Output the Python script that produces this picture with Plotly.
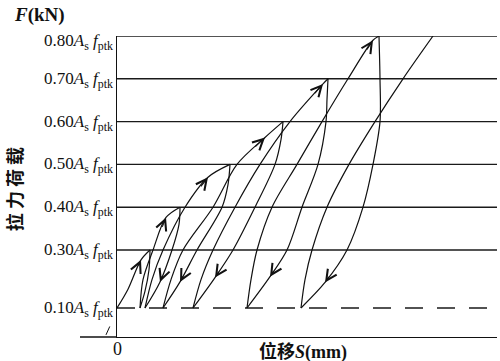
import numpy as np
import plotly.graph_objects as go

# ---------------- data (load as fraction of A_s f_ptk, displacement schematic) ----------
level_loads = [0.10, 0.30, 0.40, 0.50, 0.60, 0.70, 0.80]
level_labels = ["0.10", "0.30", "0.40", "0.50", "0.60", "0.70", "0.80"]

# loading branches (displacement, load)
load0_x = [0.0, 1.1, 2.4, 3.3]
load0_y = [0.10, 0.165, 0.266, 0.30]
load1_x = [2.3, 2.6, 3.6, 4.9, 6.3]
load1_y = [0.10, 0.198, 0.30, 0.376, 0.40]
load2_x = [2.8, 3.5, 4.6, 6.8, 9.1, 11.3]
load2_y = [0.10, 0.198, 0.30, 0.40, 0.47, 0.50]
load3_x = [4.6, 5.4, 6.6, 9.6, 12.0, 14.8, 16.6]
load3_y = [0.10, 0.198, 0.30, 0.40, 0.50, 0.563, 0.60]
load4_x = [7.6, 8.4, 9.6, 11.8, 14.3, 17.3, 20.6, 21.1]
load4_y = [0.10, 0.198, 0.30, 0.40, 0.50, 0.60, 0.688, 0.70]
load5_x = [13.0, 13.4, 14.0, 15.5, 18.0, 20.5, 23.1, 25.6, 26.2]
load5_y = [0.10, 0.198, 0.30, 0.40, 0.50, 0.60, 0.70, 0.79, 0.80]
load6_x = [18.4, 18.8, 19.5, 21.0, 23.2, 25.8, 28.6, 31.6]
load6_y = [0.10, 0.198, 0.30, 0.40, 0.50, 0.60, 0.70, 0.80]

# unloading branches
unload1_x = [3.3, 3.2, 2.8, 2.3]
unload1_y = [0.30, 0.232, 0.158, 0.10]
unload2_x = [6.3, 6.2, 5.5, 4.3, 2.8]
unload2_y = [0.40, 0.36, 0.30, 0.19, 0.10]
unload3_x = [11.3, 11.1, 10.5, 8.0, 6.3, 4.6]
unload3_y = [0.50, 0.453, 0.40, 0.30, 0.19, 0.10]
unload4_x = [16.6, 16.4, 15.8, 13.8, 11.6, 9.8, 7.6]
unload4_y = [0.60, 0.558, 0.50, 0.40, 0.30, 0.205, 0.10]
unload5_x = [21.1, 21.0, 20.9, 20.1, 18.5, 17.0, 15.3, 13.0]
unload5_y = [0.70, 0.652, 0.60, 0.50, 0.40, 0.30, 0.208, 0.10]
unload6_x = [26.2, 26.3, 26.3, 25.6, 24.6, 23.0, 20.8, 18.4]
unload6_y = [0.80, 0.70, 0.60, 0.50, 0.40, 0.30, 0.188, 0.10]

loading = [(load0_x, load0_y), (load1_x, load1_y), (load2_x, load2_y), (load3_x, load3_y),
           (load4_x, load4_y), (load5_x, load5_y), (load6_x, load6_y)]
unloading = [(unload1_x, unload1_y), (unload2_x, unload2_y), (unload3_x, unload3_y),
             (unload4_x, unload4_y), (unload5_x, unload5_y), (unload6_x, unload6_y)]

# arrow positions: (branch, load at arrow head, direction)
arrows = [(loading[0], 0.266, "up"), (loading[1], 0.376, "up"), (loading[2], 0.47, "up"),
          (loading[3], 0.563, "up"), (loading[4], 0.688, "up"), (loading[5], 0.79, "up"),
          (unloading[1], 0.19, "down"), (unloading[2], 0.19, "down"), (unloading[3], 0.205, "down"),
          (unloading[4], 0.208, "down"), (unloading[5], 0.188, "down")]

# ---------------- broken vertical axis (lower part compressed) ----------------
BREAK = 0.30
UPPER_STRETCH = 1.476


def axis_pos(load):
    load = np.asarray(load, dtype=float)
    return np.where(load <= BREAK, load, BREAK + (load - BREAK) * UPPER_STRETCH)


def x_on(branch, load):
    xs, ys = np.asarray(branch[0], float), np.asarray(branch[1], float)
    if ys[0] > ys[-1]:
        xs, ys = xs[::-1], ys[::-1]
    return float(np.interp(load, ys, xs))


SERIF = "Liberation Serif, Noto Sans CJK SC, serif"
INK = "#111111"

fig = go.Figure()

for bx, by in loading + unloading:
    fig.add_trace(go.Scatter(x=bx, y=axis_pos(by), mode="lines",
                             line=dict(color=INK, width=1.2, shape="spline", smoothing=0.9),
                             hoverinfo="skip", showlegend=False))

# level lines
for ld in level_loads:
    fig.add_shape(type="line", xref="paper", x0=0, x1=1, yref="y",
                  y0=float(axis_pos(ld)), y1=float(axis_pos(ld)),
                  line=dict(color="#1a1a1a", width=1.4,
                            dash="18px,14px" if ld == 0.10 else "solid"),
                  layer="below")

# arrows
for branch, ld, direction in arrows:
    tail = ld - 0.025 if direction == "up" else ld + 0.025
    fig.add_annotation(x=x_on(branch, ld), y=float(axis_pos(ld)),
                       ax=x_on(branch, tail), ay=float(axis_pos(tail)),
                       xref="x", yref="y", axref="x", ayref="y", text="",
                       showarrow=True, arrowhead=5, arrowsize=1.9, arrowwidth=1.1,
                       arrowcolor=INK, standoff=0, startstandoff=0)

# level labels
for ld, lab in zip(level_loads, level_labels):
    fig.add_annotation(x=0, xref="x", xshift=-2, xanchor="right",
                       y=float(axis_pos(ld)), yref="y", yanchor="middle",
                       yshift=-6 if ld == 0.80 else -1,
                       text=f"{lab}<i>A</i><sub>s</sub> <i>f</i><sub>ptk</sub>",
                       showarrow=False, font=dict(family=SERIF, size=17, color=INK))

# axis texts
fig.add_annotation(x=-0.276, xref="paper", xanchor="left", y=1.07, yref="paper", yanchor="middle",
                   text="<b><i>F</i>(kN)</b>", showarrow=False,
                   font=dict(family=SERIF, size=19, color=INK))
fig.add_annotation(x=-0.272, xref="paper", xanchor="center", y=0.49, yref="paper",
                   yanchor="middle", textangle=-90, text="<b>拉 力 荷 载</b>", showarrow=False,
                   font=dict(family="Noto Sans CJK SC", size=18, color=INK))
fig.add_annotation(x=0.49, xref="paper", xanchor="center", y=0, yref="paper", yanchor="top",
                   yshift=-2, text="<b>位移<i>S</i>(mm)</b>", showarrow=False,
                   font=dict(family=SERIF, size=18, color=INK))
fig.add_annotation(x=0, xref="x", xanchor="center", y=0, yref="paper", yanchor="top",
                   yshift=0, text="0", showarrow=False,
                   font=dict(family=SERIF, size=18, color=INK))

# x-axis extension left of origin and break mark
fig.add_shape(type="line", xref="paper", x0=-0.0974, x1=0, yref="paper", y0=0, y1=0,
              line=dict(color=INK, width=1.4))
fig.add_shape(type="line", xref="paper", x0=-0.029, x1=-0.019, yref="paper", y0=0.007, y1=0.035,
              line=dict(color=INK, width=1.0))

fig.update_xaxes(range=[0, 38], showgrid=False, zeroline=False, showticklabels=False,
                 ticks="", showline=True, linecolor=INK, linewidth=1.4, fixedrange=True)
fig.update_yaxes(range=[0, float(axis_pos(0.80))], showgrid=False, zeroline=False,
                 showticklabels=False, ticks="", showline=True, linecolor=INK, linewidth=1.4,
                 fixedrange=True)
fig.update_layout(width=500, height=361, margin=dict(l=117, r=3, t=36, b=24),
                  paper_bgcolor="white", plot_bgcolor="white", showlegend=False,
                  hovermode=False)

# remove the browser's default 8 px body margin so the figure sits at the page corner
fig.write_html("out.html", config={"displayModeBar": False, "staticPlot": True},
               post_script="document.body.style.margin='0';")
